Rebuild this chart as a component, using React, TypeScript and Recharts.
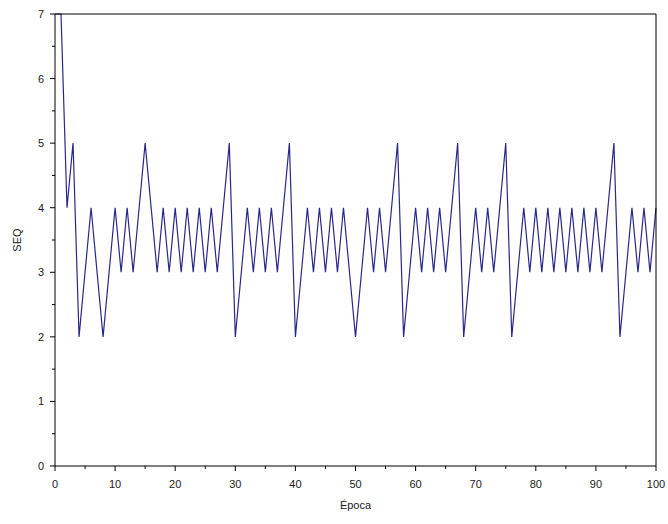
import React from 'react';
import { LineChart, Line, XAxis, YAxis, Label } from 'recharts';

// SEQ value recorded at each epoch (epoch = index, 0..100)
const seqValues: number[] = [
  7, 7, 4, 5, 2, 3, 4, 3, 2, 3,
  4, 3, 4, 3, 4, 5, 4, 3, 4, 3,
  4, 3, 4, 3, 4, 3, 4, 3, 4, 5,
  2, 3, 4, 3, 4, 3, 4, 3, 4, 5,
  2, 3, 4, 3, 4, 3, 4, 3, 4, 3,
  2, 3, 4, 3, 4, 3, 4, 5, 2, 3,
  4, 3, 4, 3, 4, 3, 4, 5, 2, 3,
  4, 3, 4, 3, 4, 5, 2, 3, 4, 3,
  4, 3, 4, 3, 4, 3, 4, 3, 4, 3,
  4, 3, 4, 5, 2, 3, 4, 3, 4, 3,
  4,
];

// Tick positions: labelled major ticks plus unlabelled minor ticks in between
const xTicks: number[] = [0, 5, 10, 15, 20, 25, 30, 35, 40, 45, 50, 55, 60, 65, 70, 75, 80, 85, 90, 95, 100];
const xMajor: number[] = [0, 10, 20, 30, 40, 50, 60, 70, 80, 90, 100];
const yTicks: number[] = [0, 0.5, 1, 1.5, 2, 2.5, 3, 3.5, 4, 4.5, 5, 5.5, 6, 6.5, 7];
const yMajor: number[] = [0, 1, 2, 3, 4, 5, 6, 7];

const X_MAX = 100;
const Y_MAX = 7;

// chart layout
const CHART_W = 668;
const CHART_H = 524;
const MARGIN = { top: 14, right: 12, bottom: 0, left: 0 };
const Y_AXIS_W = 55;
const X_AXIS_H = 58;
const PLOT_W = CHART_W - MARGIN.left - MARGIN.right - Y_AXIS_W;
const PLOT_H = CHART_H - MARGIN.top - MARGIN.bottom - X_AXIS_H;

const data = seqValues.map((seq, epoch) => ({ epoch, seq }));

const FONT = '"Liberation Sans", Arial, sans-serif';
const TEXT = '#1a1a1a';

const XTick = (props: any) => {
  const { x, y, payload } = props;
  const major = xMajor.includes(payload.value);
  return (
    <g>
      <line x1={x} y1={y} x2={x} y2={y + (major ? 5 : 3)} stroke="#000" strokeWidth={1} />
      {/* right edge of the frame rises from the last tick */}
      {payload.value === X_MAX && <line x1={x} y1={y} x2={x} y2={y - PLOT_H} stroke="#000" strokeWidth={1} />}
      {major && (
        <text x={x} y={y + 22} textAnchor="middle" fontSize={11} fontFamily={FONT} fill={TEXT}>
          {payload.value}
        </text>
      )}
    </g>
  );
};

const YTick = (props: any) => {
  const { x, y, payload } = props;
  const major = yMajor.includes(payload.value);
  return (
    <g>
      <line x1={x} y1={y} x2={x - (major ? 5 : 3)} y2={y} stroke="#000" strokeWidth={1} />
      {/* top edge of the frame runs from the last tick */}
      {payload.value === Y_MAX && <line x1={x} y1={y} x2={x + PLOT_W} y2={y} stroke="#000" strokeWidth={1} />}
      {major && (
        <text x={x - 11} y={y + 4} textAnchor="end" fontSize={11} fontFamily={FONT} fill={TEXT}>
          {payload.value}
        </text>
      )}
    </g>
  );
};

const XTitle = (props: any) => {
  const vb = props.viewBox || { x: 55, y: 466, width: 601, height: 58 };
  return (
    <text x={vb.x + vb.width / 2} y={vb.y + 43} textAnchor="middle" fontSize={11} fontFamily={FONT} fill={TEXT}>
      Época
    </text>
  );
};

const YTitle = (props: any) => {
  const vb = props.viewBox || { x: 0, y: 14, width: 55, height: 452 };
  const cx = 17;
  const cy = vb.y + vb.height / 2;
  return (
    <text
      x={cx}
      y={cy}
      transform={`rotate(-90, ${cx}, ${cy})`}
      textAnchor="middle"
      dominantBaseline="central"
      fontSize={11}
      fontFamily={FONT}
      fill={TEXT}
    >
      SEQ
    </text>
  );
};

export default function App() {
  return (
    <div style={{ position: 'absolute', left: 0, top: 0, background: '#fff' }}>
      <LineChart width={CHART_W} height={CHART_H} data={data} margin={MARGIN}>
        <XAxis
          dataKey="epoch"
          type="number"
          domain={[0, X_MAX]}
          ticks={xTicks}
          interval={0}
          height={X_AXIS_H}
          tickSize={0}
          tickMargin={0}
          tickLine={false}
          tick={<XTick />}
          axisLine={{ stroke: '#000' }}
        >
          <Label content={<XTitle />} />
        </XAxis>
        <YAxis
          type="number"
          domain={[0, Y_MAX]}
          ticks={yTicks}
          interval={0}
          width={Y_AXIS_W}
          tickSize={0}
          tickMargin={0}
          tickLine={false}
          tick={<YTick />}
          axisLine={{ stroke: '#000' }}
        >
          <Label content={<YTitle />} />
        </YAxis>
        <Line
          type="linear"
          dataKey="seq"
          stroke="#28288c"
          strokeWidth={1.2}
          dot={false}
          activeDot={false}
          isAnimationActive={false}
        />
      </LineChart>
    </div>
  );
}
